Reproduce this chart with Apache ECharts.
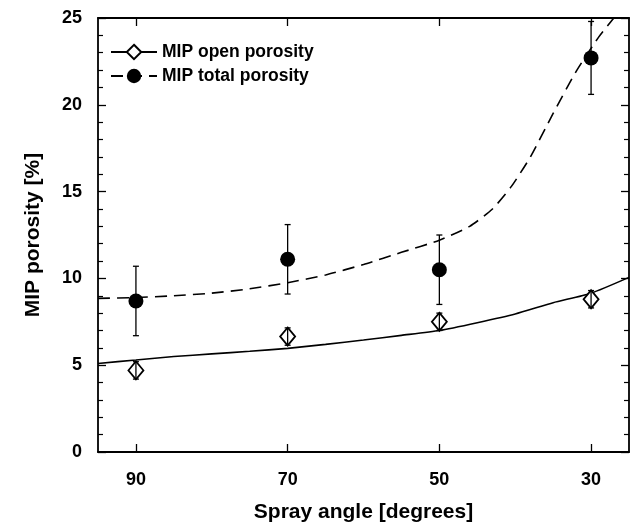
<!DOCTYPE html>
<html>
<head>
<meta charset="utf-8">
<script src="https://cdn.jsdelivr.net/npm/echarts@6.0.0/dist/echarts.min.js"></script>
<style>
  html, body { margin: 0; padding: 0; background: #fff; }
  #chart { width: 633px; height: 529px; }
</style>
</head>
<body>
<div id="chart"></div>
<script>
  // measured points (spray angle, porosity %, error)
  const openAngles = [90, 70, 50, 30];
  const openPorosity = [4.7, 6.65, 7.5, 8.8];
  const openErr = [0.5, 0.5, 0.5, 0.5];

  const totalAngles = [90, 70, 50, 30];
  const totalPorosity = [8.7, 11.1, 10.5, 22.7];
  const totalErr = [2.0, 2.0, 2.0, 2.1];

  // fitted curves
  const openFitAngles = [95, 90, 85, 80, 75, 70, 65, 60, 55, 50, 45, 40, 35, 30, 25];
  const openFit = [5.1, 5.3, 5.5, 5.65, 5.8, 5.97, 6.2, 6.45, 6.72, 7.0, 7.45, 7.95, 8.6, 9.15, 10.06];

  const totalFitAngles = [95, 90, 85, 80, 75, 70, 65, 60, 55, 50, 46, 43, 40.5, 38, 35, 32, 29, 27];
  const totalFit = [8.85, 8.9, 9.0, 9.15, 9.4, 9.75, 10.2, 10.8, 11.5, 12.2, 13.0, 14.0, 15.3, 17.0, 19.5, 21.9, 23.9, 25];

  const xTicks = [30, 50, 70, 90];

  const font = '"Liberation Sans", Arial, Helvetica, sans-serif';

  function pairs(xs, ys) {
    return xs.map((x, i) => [x, ys[i]]);
  }
  function errRows(xs, ys, es) {
    return xs.map((x, i) => [x, ys[i] - es[i], ys[i] + es[i]]);
  }

  function errorBar(params, api) {
    const x = api.value(0);
    const top = api.coord([x, api.value(2)]);
    const bot = api.coord([x, api.value(1)]);
    const w = 3;
    const style = { stroke: '#000', lineWidth: 1.3 };
    return {
      type: 'group',
      children: [
        { type: 'line', shape: { x1: top[0], y1: top[1], x2: bot[0], y2: bot[1] }, style: style },
        { type: 'line', shape: { x1: top[0] - w, y1: top[1], x2: top[0] + w, y2: top[1] }, style: style },
        { type: 'line', shape: { x1: bot[0] - w, y1: bot[1], x2: bot[0] + w, y2: bot[1] }, style: style }
      ]
    };
  }

  const axisLine = { show: true, onZero: false, lineStyle: { color: '#000', width: 1.8 } };
  const tickStyle = { width: 1.3, color: '#000' };

  let myChart = echarts.init(document.getElementById('chart'));
  myChart.setOption({
    backgroundColor: '#fff',
    animation: false,
    grid: { left: 98, right: 4, top: 18, bottom: 77, outerBoundsMode: 'none' },
    legend: {
      orient: 'vertical',
      left: 110,
      top: 43,
      padding: 0,
      itemWidth: 46,
      itemHeight: 18,
      itemGap: 6,
      textStyle: { color: '#000', fontSize: 17.5, fontWeight: 'bold', fontFamily: font },
      data: ['MIP open porosity', 'MIP total porosity']
    },
    xAxis: [
      {
        type: 'value', min: 25, max: 95, inverse: true, position: 'bottom',
        axisLine: axisLine,
        axisTick: { inside: true, length: 8, customValues: xTicks, lineStyle: tickStyle },
        axisLabel: { customValues: xTicks, margin: 19, color: '#000', fontSize: 18, fontWeight: 'bold', fontFamily: font },
        splitLine: { show: false },
        name: 'Spray angle [degrees]',
        nameLocation: 'middle',
        nameGap: 50,
        nameTextStyle: { color: '#000', fontSize: 21, fontWeight: 'bold', fontFamily: font }
      },
      {
        type: 'value', min: 25, max: 95, inverse: true, position: 'top',
        axisLine: axisLine,
        axisTick: { inside: true, length: 8, customValues: xTicks, lineStyle: tickStyle },
        axisLabel: { show: false },
        splitLine: { show: false }
      }
    ],
    yAxis: [
      {
        type: 'value', min: 0, max: 25, interval: 5, position: 'left',
        axisLine: axisLine,
        axisTick: { inside: true, length: 8, lineStyle: tickStyle },
        minorTick: { show: true, splitNumber: 5, length: 5, lineStyle: { width: 1.2, color: '#000' } },
        axisLabel: { margin: 16, color: '#000', fontSize: 18, fontWeight: 'bold', fontFamily: font },
        splitLine: { show: false },
        name: 'MIP porosity [%]',
        nameLocation: 'middle',
        nameRotate: 90,
        nameGap: 54,
        nameTextStyle: { color: '#000', fontSize: 21, fontWeight: 'bold', fontFamily: font }
      },
      {
        type: 'value', min: 0, max: 25, interval: 5, position: 'right',
        axisLine: axisLine,
        axisTick: { inside: true, length: 8, lineStyle: tickStyle },
        minorTick: { show: true, splitNumber: 5, length: 5, lineStyle: { width: 1.2, color: '#000' } },
        axisLabel: { show: false },
        splitLine: { show: false }
      }
    ],
    series: [
      {
        name: 'MIP open porosity',
        type: 'line',
        data: pairs(openFitAngles, openFit),
        showSymbol: false,
        symbol: 'diamond',
        smooth: 0.2,
        itemStyle: { color: '#fff', borderColor: '#000', borderWidth: 1.6 },
        lineStyle: { color: '#000', width: 1.6, type: 'solid' },
        z: 2
      },
      {
        name: 'MIP total porosity',
        type: 'line',
        data: pairs(totalFitAngles, totalFit),
        showSymbol: false,
        symbol: 'circle',
        smooth: 0.2,
        itemStyle: { color: '#000' },
        lineStyle: { color: '#000', width: 1.6, type: [12, 7] },
        z: 2
      },
      {
        type: 'scatter',
        data: pairs(openAngles, openPorosity),
        symbol: 'diamond',
        symbolSize: [15, 18],
        itemStyle: { color: '#fff', borderColor: '#000', borderWidth: 1.8, opacity: 1 },
        z: 3
      },
      {
        type: 'scatter',
        data: pairs(totalAngles, totalPorosity),
        symbol: 'circle',
        symbolSize: 15,
        itemStyle: { color: '#000', opacity: 1 },
        z: 3
      },
      {
        type: 'custom',
        renderItem: errorBar,
        data: errRows(openAngles, openPorosity, openErr),
        z: 4
      },
      {
        type: 'custom',
        renderItem: errorBar,
        data: errRows(totalAngles, totalPorosity, totalErr),
        z: 4
      }
    ]
  });
</script>
</body>
</html>
